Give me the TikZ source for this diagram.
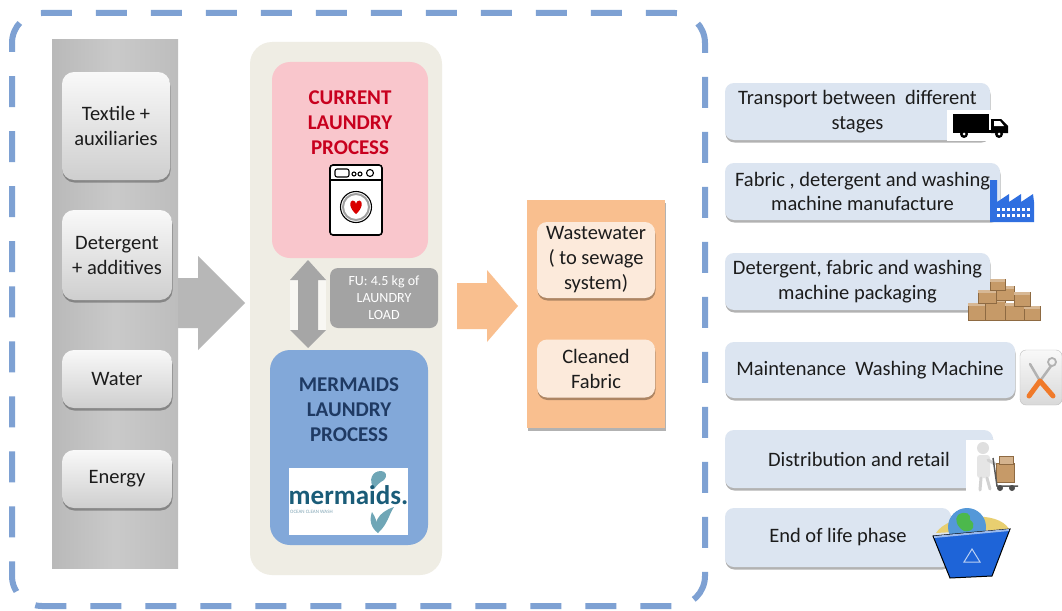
\documentclass[tikz,border=0pt]{standalone}
\usepackage{fontspec}
\setmainfont{Carlito}
\usetikzlibrary{shadows,calc}
\definecolor{frameblue}{HTML}{7EA1D3}
\definecolor{colgray}{HTML}{B7B7B7}
\definecolor{beige}{HTML}{EFEDE4}
\definecolor{pinkbox}{HTML}{F9C6CC}
\definecolor{bluebox}{HTML}{82A8D9}
\definecolor{navy}{HTML}{1F3A63}
\definecolor{darkred}{HTML}{C8001E}
\definecolor{orangebox}{HTML}{F9BF8F}
\definecolor{peach}{HTML}{FCEADB}
\definecolor{stageblue}{HTML}{DCE5F1}
\definecolor{fugray}{HTML}{A3A3A3}
\definecolor{logoteal}{HTML}{1A5C78}
\definecolor{tailteal}{HTML}{6FA6B6}
\definecolor{factoryblue}{HTML}{2F6FE0}
\definecolor{binblue}{HTML}{1E64D8}
\definecolor{cardboard}{HTML}{C69A68}
\definecolor{cardedge}{HTML}{8E6A42}
\definecolor{toolorange}{HTML}{F07A2A}
\definecolor{textdark}{HTML}{1C1C1C}
\tikzset{
  softshadow/.style={drop shadow={shadow xshift=0.5pt,shadow yshift=-2.5pt,opacity=0.3,fill=black}},
  inputbox/.style={rectangle,rounded corners=12pt,top color=white!95!gray,bottom color=gray!38,
    softshadow,inner sep=0pt,align=center,text=textdark,font=\fontsize{20.5}{25}\selectfont},
  stagebox/.style={rectangle,rounded corners=9pt,fill=stageblue,softshadow,inner sep=0pt,
    align=center,text=textdark,font=\fontsize{20.5}{24.5}\selectfont},
  outbox/.style={rectangle,rounded corners=10pt,fill=peach,softshadow,inner sep=0pt,
    align=center,text=textdark,font=\fontsize{20.5}{25}\selectfont},
  proctitle/.style={align=center,font=\fontsize{21}{25}\selectfont\bfseries,inner sep=0pt},
}
\begin{document}
\begin{tikzpicture}[x=1pt,y=-1pt]
\useasboundingbox (0,0) rectangle (1062,610);
\fill[white] (0,0) rectangle (1062,610);

% system boundary
\draw[frameblue,line width=6pt,dash pattern=on 31pt off 24pt,dash phase=44pt,rounded corners=30pt]
  (12,313) -- (12,13) -- (705,13) -- (705,606) -- (12,606) -- cycle;

% inputs column and arrow into the process
\fill[colgray] (170,278) -- (198,278) -- (198,256) -- (245,303) -- (198,350) -- (198,328) -- (170,328) -- cycle;
\node[rectangle,minimum width=126pt,minimum height=528pt,inner sep=0pt,
  left color=gray!55,right color=gray!52,middle color=gray!42] (col) at (115,304) {};
\node[inputbox,minimum width=108pt,minimum height=108pt] (tex) at (116,126) {Textile +\\auxiliaries};
\node[inputbox,minimum width=110pt,minimum height=90pt] (det) at (117,255) {Detergent\\+ additives};
\node[inputbox,minimum width=110pt,minimum height=58pt] (wat) at (117,379) {Water};
\node[inputbox,minimum width=110pt,minimum height=58pt] (ene) at (117,479) {Energy};

% process container
\node[rectangle,rounded corners=22pt,fill=beige,minimum width=192pt,minimum height=533pt,inner sep=0pt] (proc) at (346,308.5) {};
\node[rectangle,rounded corners=18pt,fill=pinkbox,minimum width=156pt,minimum height=196pt,inner sep=0pt] (cur) at (350,160) {};
\node[proctitle,text=darkred] (curtxt) at (350,123) {CURRENT\\LAUNDRY\\PROCESS};

% washing machine icon
\node[rectangle,fill=white,draw=black,line width=1.6pt,rounded corners=3pt,minimum width=52pt,minimum height=70pt,inner sep=0pt] (wm) at (356,200) {};
\draw[line width=1.4pt] (330,180) -- (382,180);
\draw[line width=1.1pt,rounded corners=2pt] (335,169) rectangle (349,177);
\draw[line width=1.1pt] (354,174) circle (2pt) (360,174) circle (2pt) (370,173) circle (3.5pt);
\draw[gray!75,line width=2pt] (356,207) circle (13pt);
\draw[black,line width=1.1pt] (356,207) circle (15.5pt);
\fill[white] (356,207) circle (11pt);
\fill[red!85!black] (356,214) .. controls (349,208) and (349,201) .. (352.5,200.5)
  .. controls (354.5,200.5) and (356,202) .. (356,204)
  .. controls (356,202) and (357.5,200.5) .. (359.5,200.5)
  .. controls (363,201) and (363,208) .. (356,214) -- cycle;

% functional unit link
\fill[white!55!beige] (290,280) rectangle (326,330);
\fill[gray!70] (308,260) -- (326,280) -- (318,280) -- (318,330) -- (326,330) -- (308,348)
  -- (290,330) -- (298,330) -- (298,280) -- (290,280) -- cycle;
\node[rectangle,rounded corners=8pt,fill=fugray,minimum width=108pt,minimum height=60pt,inner sep=0pt,
  text=white,align=center,font=\fontsize{14}{17}\selectfont] (fu) at (384,298) {FU: 4.5 kg of\\LAUNDRY\\LOAD};

% mermaids process
\node[rectangle,rounded corners=20pt,fill=bluebox,minimum width=158pt,minimum height=195pt,inner sep=0pt] (mer) at (349,447.5) {};
\node[proctitle,text=navy] (mertxt) at (349,410) {MERMAIDS\\LAUNDRY\\PROCESS};
\node[rectangle,fill=white,minimum width=119pt,minimum height=67pt,inner sep=0pt] (logo) at (348.5,501.5) {};
\fill[tailteal] (374,489) .. controls (368,480) and (372,471) .. (381,471)
  .. controls (386,471) and (388,476) .. (384,480) .. controls (380,482) and (377,485) .. (374,489) -- cycle;
\fill[tailteal] (378,533) .. controls (372,524) and (378,512) .. (394,507)
  .. controls (389,514) and (388,524) .. (378,533) -- cycle;
\fill[tailteal] (378,533) .. controls (371,528) and (369,520) .. (372,512)
  .. controls (376,518) and (378,524) .. (378,533) -- cycle;
\node[text=logoteal,font=\fontsize{27}{27}\selectfont\bfseries,inner sep=0pt] (logotxt) at (348.5,495) {mermaids.};
\node[text=logoteal!55,font=\fontsize{5}{5}\selectfont,anchor=west,inner sep=0pt] (logosub) at (290,512) {OCEAN CLEAN WASH};

% arrow to outputs
\fill[orangebox] (457,283) -- (487,283) -- (487,270) -- (518,306) -- (487,342) -- (487,329) -- (457,329) -- cycle;

% outputs
\node[rectangle,fill=orangebox,minimum width=138pt,minimum height=228pt,inner sep=0pt,softshadow] (out) at (596,314) {};
\node[outbox,minimum width=118pt,minimum height=76pt] (ww) at (596,260) {Wastewater\\( to sewage\\system)};
\node[outbox,minimum width=118pt,minimum height=58pt] (cf) at (596,368.5) {Cleaned\\Fabric};

% life-cycle stages
\node[stagebox,minimum width=265pt,minimum height=57pt] (s1) at (857.5,111.5) {Transport between\ \ different\\stages};
\node[stagebox,minimum width=275pt,minimum height=57pt] (s2) at (862.5,191.5) {Fabric , detergent and washing\\machine manufacture};
\node[stagebox,minimum width=265pt,minimum height=57pt] (s3) at (857.5,281.5) {Detergent, fabric and washing\\machine packaging};
\node[stagebox,minimum width=290pt,minimum height=56pt] (s4) at (870,370) {Maintenance\ \ Washing Machine};
\node[stagebox,minimum width=268pt,minimum height=58pt] (s5) at (859,459) {Distribution and retail};
\node[stagebox,minimum width=226pt,minimum height=59pt] (s6) at (838,537.5) {End of life phase};

% truck
\fill[white] (947,110) rectangle (1012,141);
\fill[black] (953,114) rectangle (989,131);
\fill[black] (991,119) -- (1001,119) -- (1008,126) -- (1008,133) -- (991,133) -- cycle;
\fill[white] (994,121) -- (1000,121) -- (1004,126) -- (994,126) -- cycle;
\fill[black] (953,130) rectangle (1008,133);
\fill[black] (964,134) circle (4pt) (999,134) circle (4pt);
\fill[white] (964,134) circle (1.5pt) (999,134) circle (1.5pt);

% factory
\fill[factoryblue] (990,222) -- (990,180) -- (997,180) -- (997,202) -- (1009,194) -- (1009,202)
  -- (1021,194) -- (1021,202) -- (1033,194) -- (1034,202) -- (1034,222) -- cycle;
\foreach \wy in {208,214} \foreach \wx in {997,1002,...,1030} \fill[white] (\wx,\wy) rectangle ++(2.5,2.5);

% cardboard boxes
\foreach \bx/\by/\bw/\bh in {968/303/17/17,985/299/20/21,1005/303/19/17,1024/306/16/14,
    978/290/18/13,996/286/18/14,1014/292/16/14,990/279/15/11}
  {\fill[cardboard,draw=cardedge,line width=0.5pt] (\bx,\by) rectangle ++(\bw,\bh);
   \fill[cardboard!70!white] (\bx,\by) rectangle ++(\bw,3);}

% maintenance tools
\node[rectangle,rounded corners=6pt,top color=gray!5,bottom color=gray!30,draw=gray!50,
  minimum width=42pt,minimum height=55pt,inner sep=0pt] (tool) at (1041,377.5) {};
\draw[gray!60,line width=2.5pt,line cap=round] (1040,381) -- (1030,364) (1040,381) -- (1051,366);
\draw[gray!60,line width=1.8pt] (1052,362) circle (4pt);
\draw[toolorange,line width=5pt,line cap=round] (1040,381) -- (1029,396) (1040,381) -- (1053,396);

% distribution figure with hand truck
\fill[white] (966,440) rectangle (1022,492);
\fill[gray!25] (983,448) circle (6pt);
\fill[gray!20,rounded corners=3pt] (977,455) rectangle (990,478);
\draw[gray!35,line width=3pt,line cap=round] (981,478) -- (980,490) (987,478) -- (990,489) (988,460) -- (995,464);
\fill[cardboard,draw=cardedge,line width=0.5pt] (996,463) rectangle (1014,482);
\fill[cardboard!75!white,draw=cardedge,line width=0.5pt] (999,456) rectangle (1013,464);
\draw[gray!70!black,line width=1.5pt] (993,458) -- (997,486) -- (1018,486);
\fill[black!70] (1000,488) circle (3pt) (1012,488) circle (3pt);

% recycling bin with its load
\fill[yellow!45!brown!70] (936,533) .. controls (948,514) and (998,510) .. (1009,529) -- cycle;
\fill[cyan!60!blue!70] (967,527) circle (19pt);
\fill[green!60!black!70] (958,515) .. controls (965,510) and (972,514) .. (970,520)
  .. controls (977,524) and (973,533) .. (964,531) .. controls (957,527) and (954,519) .. (958,515) -- cycle;
\fill[binblue,draw=black,line width=1pt] (933,536) -- (1010,529) -- (992,576) -- (950,578) -- cycle;
\draw[binblue!45!white,line width=2pt] (934,537) -- (1009,530);
\draw[white!70!binblue,line width=1pt] (972,549) -- (980,562) -- (964,562) -- cycle;
\end{tikzpicture}
\end{document}
